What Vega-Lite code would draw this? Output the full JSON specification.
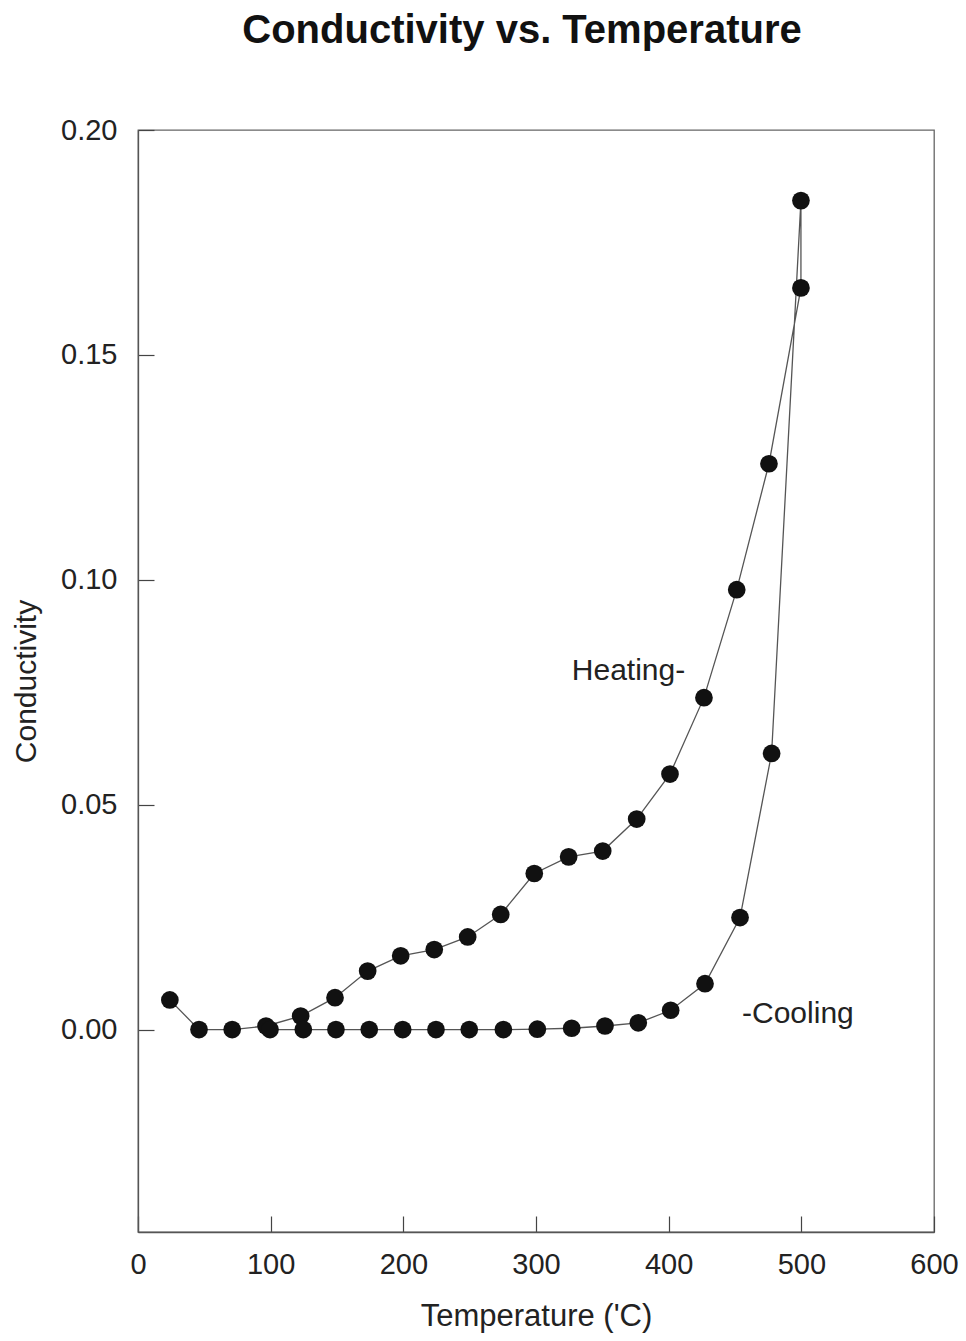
{
  "$schema": "https://vega.github.io/schema/vega-lite/v6.json",
  "width": 796,
  "height": 1102,
  "autosize": "none",
  "padding": {"left": 138, "top": 130, "right": 32, "bottom": 109},
  "background": "white",
  "title": {
    "text": "Conductivity vs. Temperature",
    "fontSize": 40,
    "fontWeight": "bold",
    "font": "Liberation Sans",
    "color": "#111",
    "anchor": "middle",
    "dx": -14,
    "offset": 65
  },
  "config": {
    "view": {"stroke": "#666", "strokeWidth": 1.3},
    "font": "Liberation Sans",
    "axis": {
      "grid": false,
      "domainColor": "#555",
      "domainWidth": 1.3,
      "tickColor": "#444",
      "tickWidth": 1.2,
      "tickSize": -16,
      "labelFlush": false,
      "labelOverlap": false,
      "labelFont": "Liberation Sans",
      "labelFontSize": 29,
      "labelColor": "#222",
      "titleFont": "Liberation Sans",
      "titleFontSize": 30,
      "titleFontWeight": "normal",
      "titleColor": "#222"
    }
  },
  "datasets": {
    "pts": [
      {"o": 1, "T": 24, "C": 0.0066},
      {"o": 2, "T": 46, "C": 0.0},
      {"o": 3, "T": 71, "C": 0.0},
      {"o": 4, "T": 96.5, "C": 0.0008},
      {"o": 5, "T": 122.6, "C": 0.003},
      {"o": 6, "T": 148.5, "C": 0.0071},
      {"o": 7, "T": 173.1, "C": 0.013},
      {"o": 8, "T": 198, "C": 0.0164},
      {"o": 9, "T": 223.3, "C": 0.0178},
      {"o": 10, "T": 248.5, "C": 0.0206},
      {"o": 11, "T": 273.4, "C": 0.0256},
      {"o": 12, "T": 298.7, "C": 0.0347},
      {"o": 13, "T": 324.6, "C": 0.0384},
      {"o": 14, "T": 350.3, "C": 0.0397},
      {"o": 15, "T": 375.9, "C": 0.0468},
      {"o": 16, "T": 401, "C": 0.0568},
      {"o": 17, "T": 426.6, "C": 0.0738},
      {"o": 18, "T": 451.3, "C": 0.0978},
      {"o": 19, "T": 475.6, "C": 0.1258},
      {"o": 20, "T": 499.7, "C": 0.1649},
      {"o": 21, "T": 499.7, "C": 0.1843},
      {"o": 22, "T": 477.6, "C": 0.0614},
      {"o": 23, "T": 453.8, "C": 0.0249},
      {"o": 24, "T": 427.4, "C": 0.0102},
      {"o": 25, "T": 401.5, "C": 0.0043},
      {"o": 26, "T": 377.1, "C": 0.0015},
      {"o": 27, "T": 352, "C": 0.0008},
      {"o": 28, "T": 326.9, "C": 0.0003},
      {"o": 29, "T": 301, "C": 0.0001},
      {"o": 30, "T": 275.4, "C": 0.0},
      {"o": 31, "T": 249.7, "C": 0.0},
      {"o": 32, "T": 224.6, "C": 0.0},
      {"o": 33, "T": 199.5, "C": 0.0},
      {"o": 34, "T": 174.3, "C": 0.0},
      {"o": 35, "T": 149.2, "C": 0.0},
      {"o": 36, "T": 124.6, "C": 0.0},
      {"o": 37, "T": 99.5, "C": 0.0}
    ],
    "notes": [
      {"T": 327, "C": 0.0778, "label": "Heating-"},
      {"T": 455.3, "C": 0.0015, "label": "-Cooling"}
    ]
  },
  "layer": [
    {
      "data": {"name": "pts"},
      "mark": {"type": "line", "color": "#555", "strokeWidth": 1.3},
      "encoding": {
        "x": {
          "field": "T",
          "type": "quantitative",
          "scale": {"domain": [0, 600], "nice": false},
          "axis": {
            "values": [0, 100, 200, 300, 400, 500, 600],
            "labelPadding": 34,
            "title": "Temperature ('C)",
            "titlePadding": 22,
            "titleFontSize": 31
          }
        },
        "y": {
          "field": "C",
          "type": "quantitative",
          "scale": {"domain": [-0.045, 0.2], "nice": false, "zero": false},
          "axis": {
            "values": [0, 0.05, 0.1, 0.15, 0.2],
            "format": ".2f",
            "labelPadding": 37,
            "title": "Conductivity",
            "titlePadding": 19
          }
        },
        "order": {"field": "o", "type": "quantitative"}
      }
    },
    {
      "data": {"name": "pts"},
      "mark": {"type": "point", "filled": true, "color": "#111", "opacity": 1, "size": 314},
      "encoding": {
        "x": {"field": "T", "type": "quantitative"},
        "y": {"field": "C", "type": "quantitative"}
      }
    },
    {
      "data": {"name": "notes"},
      "mark": {"type": "text", "align": "left", "baseline": "alphabetic", "fontSize": 30, "font": "Liberation Sans", "color": "#222"},
      "encoding": {
        "x": {"field": "T", "type": "quantitative"},
        "y": {"field": "C", "type": "quantitative"},
        "text": {"field": "label"}
      }
    }
  ]
}
